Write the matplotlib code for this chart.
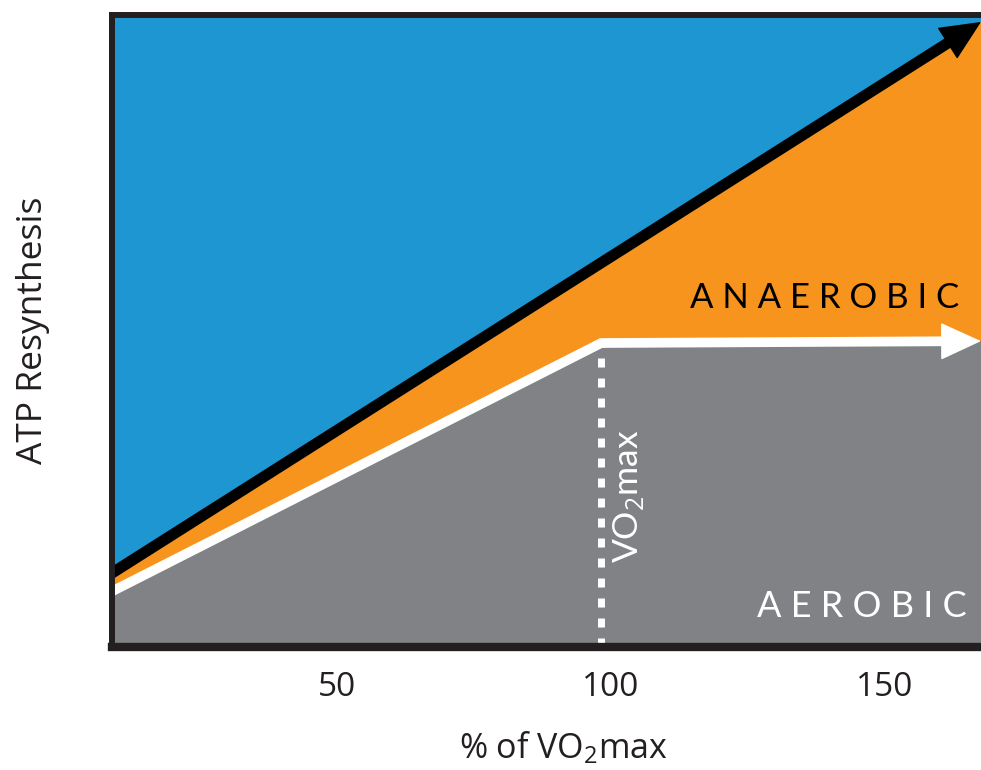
import numpy as np
import matplotlib
matplotlib.use("Agg")
import matplotlib.pyplot as plt

plt.rcParams['font.family'] = ['Open Sans', 'DejaVu Sans']
plt.rcParams['mathtext.fontset'] = 'custom'
plt.rcParams['mathtext.rm'] = 'Open Sans'

# colours
blue = '#1d96d1'
orange = '#f7941d'
grey = '#808285'
frame = '#231f20'

# data (x = % of VO2max, y = ATP resynthesis, arbitrary units)
x_min, x_max = 8.8, 167.6
total_x = [8.8, 167.6]
total_y = [11.7, 98.9]
aerobic_x = [8.8, 98.2, 167.6]
aerobic_y = [8.8, 48.1, 48.4]
vo2max_x = 98.2
xticks = [50, 100, 150]
xtick_labels = ['50', '100', '150']

fig = plt.figure(figsize=(9.81, 7.70), dpi=100)
ax = fig.add_axes([112 / 981, 1 - 647 / 770, 1 - 112 / 981, 632 / 770])
ax.set_facecolor(blue)
ax.set_xlim(x_min, x_max)
ax.set_ylim(0, 100)

# regions
ax.fill_between(aerobic_x, 0, aerobic_y, color=grey, lw=0, zorder=1)
ax.fill(np.concatenate([aerobic_x, total_x[::-1]]),
        np.concatenate([aerobic_y, total_y[::-1]]),
        color=orange, lw=0, zorder=1)

# vo2max dashed line
ax.plot([vo2max_x, vo2max_x], [aerobic_y[1], 0], color='white', lw=5,
        linestyle=(0.72, (1.3, 1.58)), dash_capstyle='butt', zorder=2)


def arrow_line(xs, ys, color, lw):
    back = 3.5
    xe = xs[-1] - back
    ye = np.interp(xe, xs, ys)
    ax.plot(list(xs[:-1]) + [xe], list(ys[:-1]) + [ye], color=color, lw=lw,
            solid_joinstyle='miter', solid_capstyle='butt', zorder=3)
    ax.annotate('', xy=(xs[-1], ys[-1]), xytext=(xe, ye),
                arrowprops=dict(arrowstyle='-|>,head_length=1.35,head_width=0.62',
                                mutation_scale=20, color=color, lw=1,
                                shrinkA=0, shrinkB=0),
                annotation_clip=False, zorder=4)


arrow_line(aerobic_x, aerobic_y, 'white', 7)
arrow_line(total_x, total_y, 'black', 8)

# labels inside
ax.text(0.975, 0.536, 'A N A E R O B I C', transform=ax.transAxes,
        ha='right', va='baseline', fontsize=25, color='black', family='Lato')
ax.text(0.984, 0.047, 'A E R O B I C', transform=ax.transAxes,
        ha='right', va='baseline', fontsize=26, color='white', family='Lato')
ax.text(0.594, 0.239, 'VO$_2$max', transform=ax.transAxes, rotation=90,
        ha='center', va='center', fontsize=25.5, color='white', family='Lato')

# axes styling
for s in ['left', 'top']:
    ax.spines[s].set_linewidth(4.3)
    ax.spines[s].set_color(frame)
ax.spines['bottom'].set_linewidth(6)
ax.spines['bottom'].set_color(frame)
ax.spines['right'].set_visible(False)
for sp in ax.spines.values():
    sp.set_zorder(5)
ax.set_yticks([])
ax.set_xticks(xticks)
ax.set_xticklabels(xtick_labels)
ax.tick_params(axis='x', length=0, pad=17, labelsize=24, labelcolor=frame)

fig.text(33 / 981, 1 - 330 / 770, 'ATP Resynthesis', rotation=90,
         ha='center', va='center', fontsize=25.5, color=frame)
fig.text(563 / 981, 1 - 758 / 770, '% of VO$_2$max', ha='center',
         va='baseline', fontsize=24.5, color=frame)

fig.savefig('out.png', dpi=100)
